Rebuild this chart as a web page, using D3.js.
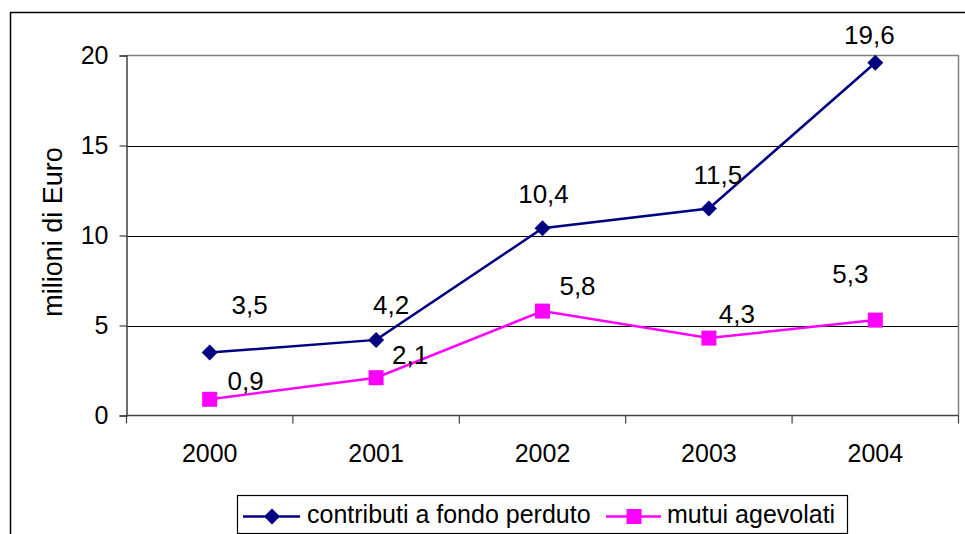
<!DOCTYPE html>
<html>
<head>
<meta charset="utf-8">
<script src="https://cdn.jsdelivr.net/npm/d3@7"></script>
<style>
html,body{margin:0;padding:0;background:#fff;}
svg{display:block;font-family:"Liberation Sans",Arial,sans-serif;}
</style>
</head>
<body>
<svg id="chart" width="965" height="534"></svg>
<script>
// ---- data ----
const years = ["2000", "2001", "2002", "2003", "2004"];
const contributi = [3.5, 4.2, 10.4, 11.5, 19.6];
const mutui = [0.9, 2.1, 5.8, 4.3, 5.3];
const yTicks = [0, 5, 10, 15, 20];
const seriesNames = ["contributi a fondo perduto", "mutui agevolati"];
// label offsets (layout, px) relative to each point
const contribLabelDx = [40, 15, 1, 9, -6];
const contribLabelDy = [-39, -26, -25, -25, -19];
const mutuiLabelDx = [36, 34, 35, 28, -25];
const mutuiLabelDy = [-9, -14, -16, -15, -37];

(function () {
const fmt = v => String(v).replace(".", ",");

const svg = d3.select("#chart");
const pLeft = 126.5, pRight = 958.5, pTop = 55.5, pBottom = 415.5;

// outer chart border
svg.append("rect").attr("x", 10.5).attr("y", 12.5).attr("width", 1000).attr("height", 600)
  .attr("fill", "#fff").attr("stroke", "#000").attr("stroke-width", 1.5);

const x = d3.scaleBand().domain(years).range([pLeft, pRight]).padding(0);
const y = d3.scaleLinear().domain([0, 20]).range([pBottom, pTop]);

// gridlines
svg.append("g").selectAll("line").data(yTicks.filter(t => t > 0 && t < 20)).join("line")
  .attr("x1", pLeft).attr("x2", pRight)
  .attr("y1", d => Math.round(y(d)) + 0.5).attr("y2", d => Math.round(y(d)) + 0.5)
  .attr("stroke", "#000").attr("stroke-width", 1);

// plot area border top/right (gray)
svg.append("path")
  .attr("d", `M${pLeft},${pTop}H${pRight}V${pBottom}`)
  .attr("fill", "none").attr("stroke", "#808080").attr("stroke-width", 1.5);

// y axis
const yAxis = d3.axisLeft(y).tickValues(yTicks).tickSize(7).tickPadding(11).tickFormat(d => d);
const gy = svg.append("g").attr("transform", `translate(${pLeft},0)`).call(yAxis);
gy.select(".domain").attr("stroke", "#404040").attr("stroke-width", 1.5);
gy.selectAll(".tick line").attr("stroke", "#404040").attr("stroke-width", 1.2);
gy.selectAll(".tick text").attr("font-size", 25).attr("fill", "#000")
  .attr("font-family", "Liberation Sans, Arial, sans-serif");

// x axis: ticks at band boundaries
const gx = svg.append("g").attr("transform", `translate(0,${pBottom})`);
gx.append("line").attr("x1", pLeft).attr("x2", pRight).attr("y1", 0).attr("y2", 0)
  .attr("stroke", "#404040").attr("stroke-width", 1.5);
const bounds = years.map(d => x(d)).concat([x(years[years.length - 1]) + x.bandwidth()]);
gx.selectAll("line.t").data(bounds).join("line").attr("class", "t")
  .attr("x1", d => d).attr("x2", d => d).attr("y1", 0).attr("y2", 8)
  .attr("stroke", "#404040").attr("stroke-width", 1.2);
gx.selectAll("text").data(years).join("text")
  .attr("x", d => x(d) + x.bandwidth() / 2).attr("y", 46)
  .attr("text-anchor", "middle").attr("font-size", 25).attr("fill", "#000").text(d => d);

// y title
svg.append("text").attr("transform", "translate(62,232) rotate(-90)")
  .attr("text-anchor", "middle").attr("font-size", 27).attr("fill", "#000").text("milioni di Euro");

const cx = d => x(d) + x.bandwidth() / 2;
const line = d3.line().x(d => cx(d[0])).y(d => y(d[1]));

// mutui series
svg.append("path").datum(years.map((d, i) => [d, mutui[i]])).attr("d", line)
  .attr("fill", "none").attr("stroke", "#FF00FF").attr("stroke-width", 2.5);
// contributi series
svg.append("path").datum(years.map((d, i) => [d, contributi[i]])).attr("d", line)
  .attr("fill", "none").attr("stroke", "#000080").attr("stroke-width", 2.5);

const sq = 15, dia = 16;
svg.append("g").selectAll("rect").data(years).join("rect")
  .attr("x", (d) => cx(d) - sq / 2).attr("y", (d, i) => y(mutui[i]) - sq / 2)
  .attr("width", sq).attr("height", sq).attr("fill", "#FF00FF");
svg.append("g").selectAll("path").data(years).join("path")
  .attr("transform", (d, i) => `translate(${cx(d)},${y(contributi[i])})`)
  .attr("d", `M0,${-dia/2}L${dia/2},0L0,${dia/2}L${-dia/2},0Z`).attr("fill", "#000080");

// value labels
svg.append("g").selectAll("text").data(years).join("text")
  .attr("x", (d, i) => cx(d) + contribLabelDx[i]).attr("y", (d, i) => y(contributi[i]) + contribLabelDy[i])
  .attr("text-anchor", "middle").attr("font-size", 26).attr("fill", "#000")
  .text((d, i) => fmt(contributi[i]));
svg.append("g").selectAll("text").data(years).join("text")
  .attr("x", (d, i) => cx(d) + mutuiLabelDx[i]).attr("y", (d, i) => y(mutui[i]) + mutuiLabelDy[i])
  .attr("text-anchor", "middle").attr("font-size", 26).attr("fill", "#000")
  .text((d, i) => fmt(mutui[i]));

// legend
const lg = svg.append("g");
lg.append("rect").attr("x", 237.5).attr("y", 495.5).attr("width", 610).attr("height", 38)
  .attr("fill", "#fff").attr("stroke", "#000").attr("stroke-width", 1.2);
const ly = 516.5;
lg.append("line").attr("x1", 243).attr("x2", 300).attr("y1", ly).attr("y2", ly)
  .attr("stroke", "#000080").attr("stroke-width", 2.5);
lg.append("path").attr("transform", `translate(272,${ly})`)
  .attr("d", `M0,${-dia/2}L${dia/2},0L0,${dia/2}L${-dia/2},0Z`).attr("fill", "#000080");
lg.append("text").attr("x", 307).attr("y", 522.5).attr("font-size", 25).text(seriesNames[0]);
lg.append("line").attr("x1", 606).attr("x2", 661).attr("y1", ly).attr("y2", ly)
  .attr("stroke", "#FF00FF").attr("stroke-width", 2.5);
lg.append("rect").attr("x", 634 - sq / 2).attr("y", ly - sq / 2).attr("width", sq).attr("height", sq)
  .attr("fill", "#FF00FF");
lg.append("text").attr("x", 667).attr("y", 522.5).attr("font-size", 25).text(seriesNames[1]);
})();
</script>
</body>
</html>
